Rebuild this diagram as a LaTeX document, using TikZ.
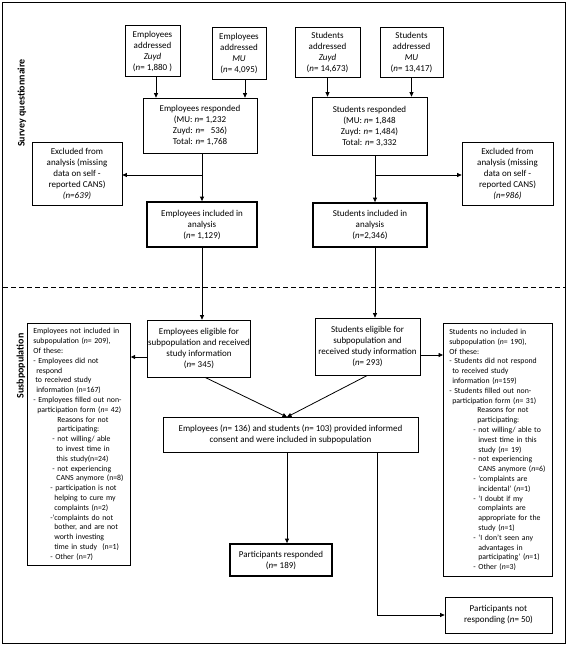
\documentclass[tikz,border=0pt]{standalone}
\usepackage{fontspec}
\setmainfont{Carlito}
\usetikzlibrary{arrows.meta}
\begin{document}
\begin{tikzpicture}[x=1pt,y=-1pt,
  box/.style={draw, line width=0.7pt, align=center, inner sep=1pt, font=\fontsize{9}{11}\selectfont},
  thickbox/.style={box, line width=1.8pt},
  sidebox/.style={draw, line width=0.7pt, align=left, inner xsep=6pt, inner ysep=0pt, anchor=north west, font=\fontsize{7.8}{9.8}\selectfont},
  arr/.style={-{Triangle[length=4.5pt,width=4pt]}, line width=0.8pt},
  lab/.style={rotate=90, font=\fontsize{10}{12}\selectfont\bfseries}]
\useasboundingbox (0,0) rectangle (568,646);
\draw[line width=0.8pt] (2,2) rectangle (565,643);

% labels
\node[lab] (lsq) at (22,103) {Survey questionnaire};
\node[lab] (lsp) at (21,366) {Susbpopulation};

% survey part
\node[box, minimum width=55pt, minimum height=51pt] (ez) at (152.5,51) {Employees\\addressed\\\textit{Zuyd}\\(\textit{n}= 1,880 )};
\node[box, minimum width=54pt, minimum height=52pt] (em) at (239,53) {Employees\\addressed\\\textit{MU}\\(\textit{n}= 4,095)};
\node[box, minimum width=114pt, minimum height=55pt] (er) at (200,125.5) {Employees responded\\(MU: \textit{n}= 1,232\\Zuyd: \textit{n}=\ \ \ 536)\\Total: \textit{n}= 1,768};
\node[box, minimum width=90pt, minimum height=63pt] (ex1) at (77,173.5) {Excluded from\\analysis (missing\\data on self -\\reported CANS)\\\textit{(n=639)}};
\node[thickbox, minimum width=110pt, minimum height=45pt] (ei) at (202,224.5) {Employees included in\\analysis\\(\textit{n}= 1,129)};

\node[box, minimum width=65pt, minimum height=50pt] (sz) at (327.5,52) {Students\\addressed\\\textit{Zuyd}\\(\textit{n}= 14,673)};
\node[box, minimum width=63pt, minimum height=50pt] (sm) at (411.5,52) {Students\\addressed\\\textit{MU}\\(\textit{n}= 13,417)};
\node[box, minimum width=115pt, minimum height=58pt] (sr) at (369.5,126) {Students responded\\(MU: \textit{n}= 1,848\\Zuyd: \textit{n}= 1,484)\\Total: \textit{n}= 3,332};
\node[box, minimum width=91pt, minimum height=63pt] (ex2) at (507.5,173.5) {Excluded from\\analysis (missing\\data on self -\\reported CANS)\\\textit{(n=986)}};
\node[thickbox, minimum width=114pt, minimum height=44pt] (si) at (370,225) {Students included in\\analysis\\(\textit{n}=2,346)};

% subpopulation part
\node[box, minimum width=102pt, minimum height=57pt] (ee) at (199,348.5) {Employees eligible for\\subpopulation and received\\study information\\(\textit{n}= 345)};
\node[box, minimum width=105pt, minimum height=57pt] (se) at (367.5,346.5) {Students eligible for\\subpopulation and\\received study information\\(\textit{n}= 293)};

\node[sidebox, text width=91pt, minimum height=242pt] (en) at (27,323) {Employees not included in\\
subpopulation (\textit{n}= 209),\\
Of these:\\
- Employees did not\\
\hspace*{3pt}respond\\
\hspace*{2pt}to received study\\
\hspace*{3pt}information (n=167)\\
- Employees filled out non-\\
\hspace*{4pt}participation form (\textit{n}= 42)\\
\hspace*{24pt}Reasons for not\\
\hspace*{24pt}participating:\\
\hspace*{19pt}- not willing/ able\\
\hspace*{23pt}to invest time in\\
\hspace*{23pt}this study(n=24)\\
\hspace*{19pt}- not experiencing\\
\hspace*{23pt}CANS anymore (n=8)\\
\hspace*{17pt}- participation is not\\
\hspace*{21pt}helping to cure my\\
\hspace*{21pt}complaints (n=2)\\
\hspace*{17pt}-‘complaints do not\\
\hspace*{21pt}bother, and are not\\
\hspace*{21pt}worth investing\\
\hspace*{21pt}time in study\ \ (n=1)\\
\hspace*{17pt}- Other (n=7)};

\node[sidebox, inner xsep=5pt, text width=99pt, minimum height=253pt] (sn) at (443,323) {\hspace*{1pt}Students no included in\\
\hspace*{1pt}subpopulation (\textit{n}= 190),\\
\hspace*{1pt}Of these:\\
\hspace*{1pt}- Students did not respond\\
\hspace*{4pt}to received study\\
\hspace*{4pt}information (\textit{n}=159)\\
\hspace*{1pt}- Students filled out non-\\
\hspace*{4pt}participation form (\textit{n}= 31)\\
\hspace*{29pt}Reasons for not\\
\hspace*{29pt}participating:\\
\hspace*{25pt}- not willing/ able to\\
\hspace*{30pt}invest time in this\\
\hspace*{30pt}study (\textit{n}= 19)\\
\hspace*{25pt}- not experiencing\\
\hspace*{30pt}CANS anymore (\textit{n}=6)\\
\hspace*{25pt}- ‘complaints are\\
\hspace*{30pt}incidental’ (\textit{n}=1)\\
\hspace*{25pt}- ‘I doubt if my\\
\hspace*{30pt}complaints are\\
\hspace*{30pt}appropriate for the\\
\hspace*{30pt}study (\textit{n}=1)\\
\hspace*{25pt}- ‘I don’t seen any\\
\hspace*{30pt}advantages in\\
\hspace*{30pt}participating’ (\textit{n}=1)\\
\hspace*{25pt}- Other (\textit{n}=3)};

\node[box, minimum width=255pt, minimum height=35pt] (co) at (290.5,434.5) {Employees (\textit{n}= 136) and students (\textit{n}= 103) provided informed\\consent and were included in subpopulation};
\node[thickbox, minimum width=102pt, minimum height=32pt] (pr) at (281,560) {Participants responded\\(\textit{n}= 189)};
\node[box, minimum width=107pt, minimum height=36pt] (pn) at (498.5,615) {Participants not\\responding (\textit{n}= 50)};

% helper coordinates
\coordinate (xa) at (156,0);
\coordinate (xb) at (245,0);
\coordinate (te) at (202,0);
\coordinate (ts) at (375,0);
\coordinate (hy) at (0,175);
\coordinate (m1) at (287,0);
\coordinate (m2) at (377,0);
\coordinate (by) at (0,615);
\coordinate (jn) at (287,417);

% connectors
\draw[arr] (ez.south -| xa) -- (er.north -| xa);
\draw[arr] (em.south -| xb) -- (er.north -| xb);
\draw[arr] (sz.south) -- (sz.south |- sr.north);
\draw[arr] (sm.south) -- (sm.south |- sr.north);

\draw[arr] (er.south -| te) -- (ei.north -| te);
\draw[arr] (te |- hy) -- (ex1.east |- hy);
\draw[arr] (sr.south -| ts) -- (si.north -| ts);
\draw[arr] (ts |- hy) -- (ex2.west |- hy);

\draw[line width=0.8pt, dash pattern=on 5pt off 3pt] (3,287) -- (565,287);

\draw[arr] (ei.south -| te) -- (ee.north -| te);
\draw[arr] (si.south -| ts) -- (se.north -| ts);
\draw[arr] (ee.west |- 0,357) -- (en.east |- 0,357);
\draw[arr] (se.east |- 0,355) -- (sn.west |- 0,355);

\draw[arr] ([xshift=6pt]ee.south) -- (jn);
\draw[arr] (se.south) -- (jn);
\draw[arr] (co.south -| m1) -- (pr.north -| m1);
\draw[arr] (co.south -| m2) -- (m2 |- by) -- (pn.west |- by);
\end{tikzpicture}
\end{document}
